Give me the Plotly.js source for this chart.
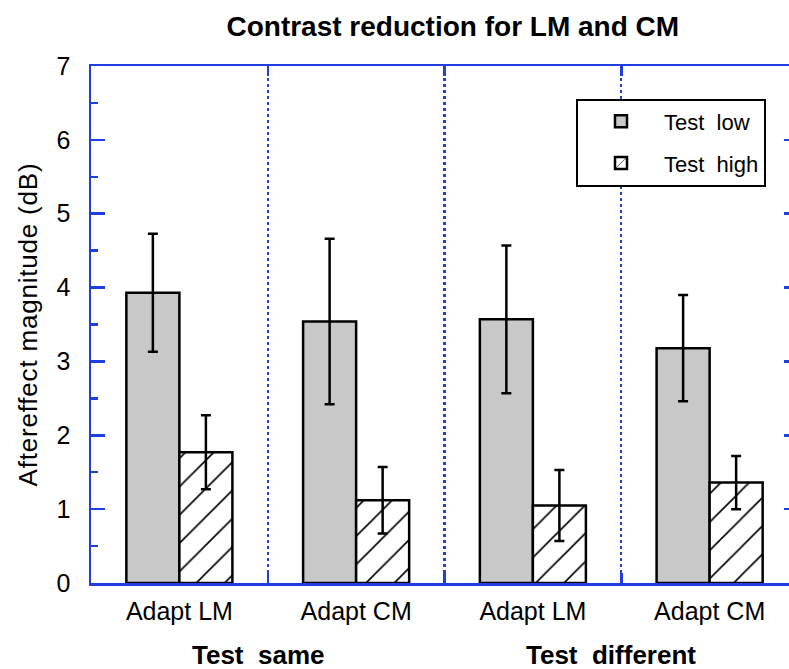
<!DOCTYPE html>
<html>
<head>
<meta charset="utf-8">
<script src="https://cdn.plot.ly/plotly-3.0.1.min.js"></script>
<style>
  html, body { margin: 0; padding: 0; overflow: hidden; background: #ffffff; }
  #chart { width: 800px; height: 669px; }
  #chart .ytitle { letter-spacing: 0.8px; }
</style>
</head>
<body>
<div id="chart"></div>
<script>
// ---- data ----
const categories = ['Adapt LM', 'Adapt CM', 'Adapt LM', 'Adapt CM'];
const groupLabels = ['Test\u00a0\u00a0same', 'Test\u00a0\u00a0different'];
const groupOf = [0, 0, 1, 1];
const seriesNames = ['Test\u00a0\u00a0low', 'Test\u00a0\u00a0high'];
const testLow = [3.93, 3.54, 3.57, 3.18];
const testLowErr = [0.80, 1.12, 1.00, 0.72];
const testHigh = [1.77, 1.12, 1.05, 1.36];
const testHighErr = [0.50, 0.45, 0.48, 0.36];

// ---- styling ----
const BLUE = '#1f3fe0';
const FONT = 'Liberation Sans, Arial, Helvetica, sans-serif';

const xIdx = categories.map((_, i) => i);
const boundaries = xIdx.slice(1).map(i => i - 0.5);

// group label positions: centre of each group's categories
const groupCenters = groupLabels.map((_, g) => {
  const members = xIdx.filter(i => groupOf[i] === g);
  return (members[0] + members[members.length - 1]) / 2;
});

const errStyle = { color: '#000', thickness: 2.5, width: 5 };

const traces = [
  {
    type: 'bar', name: seriesNames[0], x: xIdx, y: testLow,
    legendgroup: 'a',
    marker: { color: '#c8c8c8', line: { color: '#000', width: 2.5 } },
    error_y: Object.assign({ type: 'data', array: testLowErr, visible: true }, errStyle),
    hoverinfo: 'y'
  },
  {
    type: 'bar', name: seriesNames[1], x: xIdx, y: testHigh,
    legendgroup: 'b',
    marker: {
      color: '#ffffff',
      line: { color: '#000', width: 2.5 },
      pattern: { shape: '/', fgcolor: '#000', bgcolor: '#ffffff', size: 20, solidity: 0.08 }
    },
    error_y: Object.assign({ type: 'data', array: testHighErr, visible: true }, errStyle),
    hoverinfo: 'y'
  }
];

const layout = {
  width: 800, height: 669,
  margin: { l: 91, r: 2, t: 66, b: 86, pad: 0 },
  paper_bgcolor: '#ffffff', plot_bgcolor: '#ffffff',
  font: { family: FONT, color: '#000' },
  barmode: 'group', bargap: 0.4, bargroupgap: 0,
  title: {
    text: 'Contrast reduction for LM and CM',
    font: { family: FONT, size: 28, weight: 'bold', color: '#000' },
    xref: 'container', x: 0.566, xanchor: 'center',
    yref: 'container', y: 0.961, yanchor: 'middle'
  },
  xaxis: {
    range: [-0.5, 3.5], fixedrange: true,
    tickmode: 'array', tickvals: xIdx, ticktext: categories,
    ticks: '', showgrid: false, zeroline: false,
    showline: true, linecolor: BLUE, linewidth: 2.5, mirror: 'ticks',
    tickfont: { family: FONT, size: 25, color: '#000' },
    ticklabelstandoff: 4,
    minor: {
      tickmode: 'array', tickvals: boundaries,
      ticks: 'inside', ticklen: 10, tickwidth: 2.5, tickcolor: BLUE,
      showgrid: true, gridcolor: BLUE, gridwidth: 2.2, griddash: 'dot'
    }
  },
  yaxis: {
    range: [0, 7], fixedrange: true, dtick: 1, tick0: 0,
    ticks: 'inside', ticklen: 14, tickwidth: 2.5, tickcolor: BLUE,
    showline: true, linecolor: BLUE, linewidth: 2.5, mirror: 'ticks',
    showgrid: false, zeroline: false,
    tickfont: { family: FONT, size: 25, color: '#000' },
    ticklabelstandoff: 13,
    minor: { dtick: 0.5, ticks: 'inside', ticklen: 7, tickwidth: 2.5, tickcolor: BLUE, showgrid: false },
    title: { text: 'Aftereffect magnitude (dB)', font: { family: FONT, size: 26, color: '#000' }, standoff: 12 }
  },
  showlegend: true,
  legend: {
    x: 0.686, y: 0.937, xanchor: 'left', yanchor: 'top',
    bgcolor: '#ffffff', bordercolor: '#000', borderwidth: 2,
    font: { family: FONT, size: 22, color: '#000' },
    itemwidth: 76, traceorder: 'grouped', tracegroupgap: 10,
    itemclick: false, itemdoubleclick: false
  },
  annotations: groupLabels.map((t, g) => ({
    text: t, xref: 'x', x: groupCenters[g], xshift: -10,
    yref: 'paper', y: -0.139,
    xanchor: 'center', yanchor: 'middle', showarrow: false,
    font: { family: FONT, size: 26, weight: 'bold', color: '#000' }
  }))
};

Plotly.newPlot('chart', traces, layout, { displayModeBar: false, staticPlot: true });
</script>
</body>
</html>
